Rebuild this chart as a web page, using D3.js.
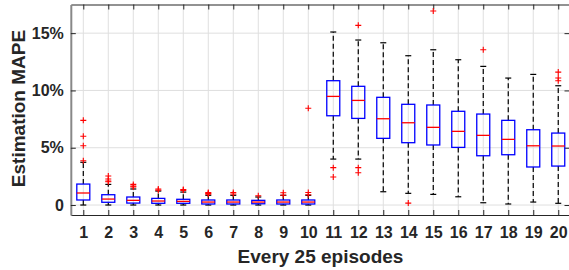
<!DOCTYPE html>
<html><head><meta charset="utf-8">
<script src="https://cdn.jsdelivr.net/npm/d3@7"></script>
<style>body{margin:0;background:#fff}svg{display:block}text{font-family:"Liberation Sans",Arial,sans-serif;font-weight:bold;fill:#262626}</style>
</head><body>
<script>
const categories = ["1","2","3","4","5","6","7","8","9","10","11","12","13","14","15","16","17","18","19","20"];
const q1Values   = [0.44,0.24,0.17,0.15,0.15,0.09,0.09,0.11,0.09,0.09,7.79,7.56,5.82,5.44,5.24,5.03,4.30,4.39,3.32,3.40];
const medValues  = [1.05,0.52,0.41,0.35,0.32,0.26,0.26,0.26,0.26,0.26,9.48,9.13,7.53,7.18,6.78,6.43,6.08,5.73,5.17,5.15];
const q3Values   = [1.83,0.90,0.70,0.58,0.50,0.44,0.44,0.41,0.44,0.44,10.85,10.36,9.40,8.79,8.73,8.18,7.94,7.39,6.57,6.28];
const whiskLow   = [0,0,0,0,0,0,0,0,0,0,4.01,4.01,1.16,1.02,0.93,0.72,0.20,0.09,0.26,0.15];
const whiskHigh  = [3.73,1.80,1.40,1.22,1.13,0.85,0.85,0.70,0.85,0.85,15.10,14.40,14.16,13.03,13.55,12.68,12.10,11.08,11.40,10.41];
const outliers   = [[7.39,6.0,5.17,3.87],[2.53,2.27,2.10,2.03],[1.80,1.65,1.57],[1.40,1.30],[1.35,1.28],
                    [1.10,1.02,0.95],[1.10,0.96],[0.81],[1.07,0.85],[8.44,1.10,0.90],
                    [3.26,2.44],[15.68,3.26,2.82],[],[0.17],[16.93],[],[13.55],[],[],[11.60,11.08,10.85]];
const yTicks = [0,5,10,15];
const yTickLabels = ["0","5%","10%","15%"];

const W=569,H=270;
const L=70.8,R=569.5,T=4.5,B=215;
const svg=d3.select("body").append("svg").attr("width",W).attr("height",H);
const x=d3.scaleLinear().domain([0.5,20.45]).range([L,R]);
const y=d3.scaleLinear().domain([-0.87,17.5]).range([B,T]);
const xs=categories.map((c,i)=>i+1);

// grid
svg.append("g").selectAll("line").data(xs).join("line")
  .attr("x1",d=>x(d)).attr("x2",d=>x(d)).attr("y1",T).attr("y2",B)
  .attr("stroke","#dfdfdf").attr("stroke-width",1);
svg.append("g").selectAll("line").data(yTicks).join("line")
  .attr("x1",L).attr("x2",R).attr("y1",d=>y(d)).attr("y2",d=>y(d))
  .attr("stroke","#dfdfdf").attr("stroke-width",1);

// axes
const axisCol="#262626";
const gB=svg.append("g").attr("transform",`translate(0,${B})`)
  .call(d3.axisBottom(x).tickValues(xs).tickFormat((d,i)=>categories[i]).tickSizeInner(-5).tickSizeOuter(0).tickPadding(12));
const gT=svg.append("g").attr("transform",`translate(0,${T})`)
  .call(d3.axisTop(x).tickValues(xs).tickFormat("").tickSizeInner(-5).tickSizeOuter(0));
const gL=svg.append("g").attr("transform",`translate(${L},0)`)
  .call(d3.axisLeft(y).tickValues(yTicks).tickFormat((d,i)=>yTickLabels[i]).tickSizeInner(-5).tickSizeOuter(0).tickPadding(7));
const gR=svg.append("g").attr("transform",`translate(${R},0)`)
  .call(d3.axisRight(y).tickValues(yTicks).tickFormat("").tickSizeInner(-5).tickSizeOuter(0));
[gB,gT,gL,gR].forEach(g=>{
  g.select(".domain").attr("stroke",axisCol).attr("stroke-width",1.2);
  g.selectAll(".tick line").attr("stroke",axisCol).attr("stroke-width",1);
  g.selectAll("text").attr("font-size",16).attr("font-family","Liberation Sans, Arial, sans-serif").attr("font-weight","bold").attr("fill","#262626");
});
gL.select(".domain").attr("stroke","#888").attr("stroke-width",2);

// boxes
const bw=0.52*(x(2)-x(1)), cw=6;
const g=svg.append("g");
xs.forEach((d,i)=>{
  const cx=x(d);
  g.append("line").attr("x1",cx).attr("x2",cx).attr("y1",y(q3Values[i])).attr("y2",y(whiskHigh[i]))
    .attr("stroke","#000").attr("stroke-width",1.2).attr("stroke-dasharray","5,3");
  g.append("line").attr("x1",cx).attr("x2",cx).attr("y1",y(q1Values[i])).attr("y2",y(whiskLow[i]))
    .attr("stroke","#000").attr("stroke-width",1.2).attr("stroke-dasharray","5,3");
  [whiskHigh[i],whiskLow[i]].forEach(v=>g.append("line").attr("x1",cx-cw/2).attr("x2",cx+cw/2)
    .attr("y1",y(v)).attr("y2",y(v)).attr("stroke","#000").attr("stroke-width",1.2));
  g.append("rect").attr("x",cx-bw/2).attr("width",bw).attr("y",y(q3Values[i])).attr("height",y(q1Values[i])-y(q3Values[i]))
    .attr("fill","none").attr("stroke","#0000ff").attr("stroke-width",1.3);
  g.append("line").attr("x1",cx-bw/2).attr("x2",cx+bw/2).attr("y1",y(medValues[i])).attr("y2",y(medValues[i]))
    .attr("stroke","#ff0000").attr("stroke-width",1.3);
  outliers[i].forEach(v=>{
    const py=y(v);
    g.append("path").attr("d",`M${cx-3},${py}H${cx+3}M${cx},${py-3}V${py+3}`).attr("stroke","#ff0000").attr("stroke-width",1.1);
  });
});

// labels
svg.append("text").attr("transform",`translate(24.5,108.5) rotate(-90)`).attr("text-anchor","middle")
  .attr("font-size",19).text("Estimation MAPE");
svg.append("text").attr("x",320.5).attr("y",263).attr("text-anchor","middle").attr("font-size",19).text("Every 25 episodes");
</script>
</body></html>
